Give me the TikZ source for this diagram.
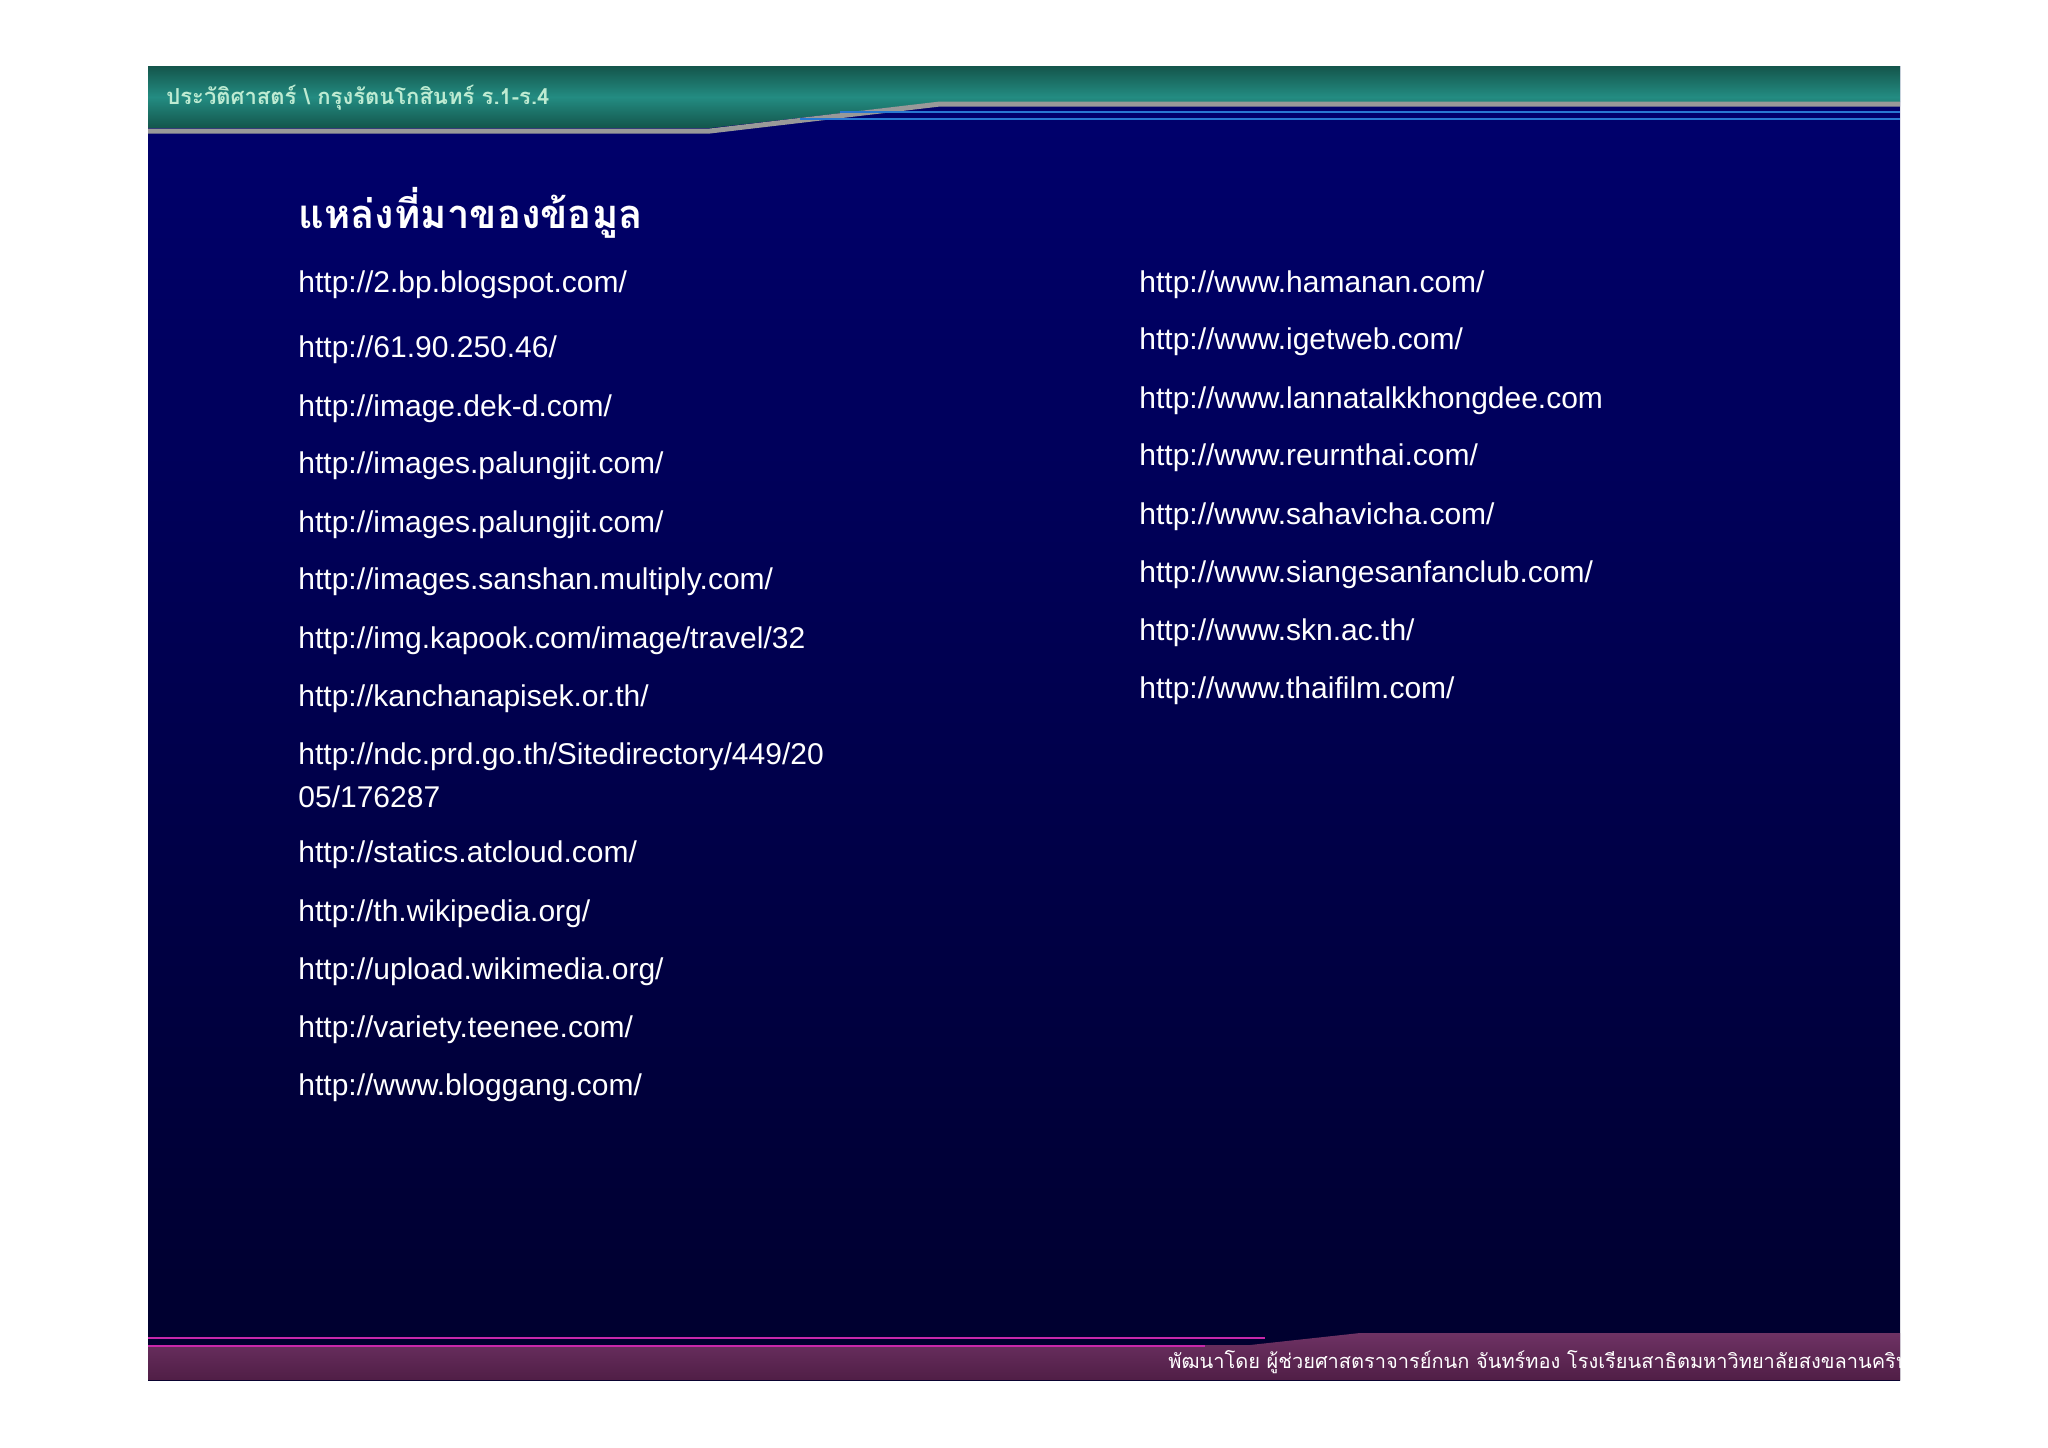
\documentclass[tikz,border=0pt]{standalone}
\usepackage{fontspec}
\setmainfont{Liberation Sans}
\newfontfamily\thaifont[Script=Thai]{Loma}
\definecolor{navyA}{RGB}{0,0,110}
\definecolor{navyB}{RGB}{0,0,45}
\definecolor{tealD}{RGB}{20,85,75}
\definecolor{tealM}{RGB}{35,140,130}
\definecolor{lblue}{RGB}{40,120,210}
\definecolor{hdrtext}{RGB}{190,235,210}
\definecolor{plumA}{RGB}{110,50,100}
\definecolor{plumB}{RGB}{80,30,70}
\definecolor{magline}{RGB}{200,40,170}
\begin{document}
\begin{tikzpicture}[x=0.5pt,y=-0.5pt,
  url/.style={anchor=west,text=white,font=\fontsize{15}{17}\selectfont,inner sep=0pt}]
\useasboundingbox (0,0) rectangle (2048,1447);
\fill[white] (0,0) rectangle (2048,1447);
\shade[top color=navyA, bottom color=navyB] (148,66) rectangle (1900,1380);
% header
\shade[top color=tealD, bottom color=tealD, middle color=tealM]
  (148,66) -- (1900,66) -- (1900,102) -- (940,102) -- (710,128) -- (148,128) -- cycle;
\draw[gray!80,line width=2.5pt] (148,131) -- (710,131) -- (940,104) -- (1900,104);
\draw[lblue,line width=1pt] (840,112) -- (1900,112);
\draw[lblue,line width=1pt] (800,119) -- (1900,119);
\node[anchor=west,text=hdrtext,font=\thaifont\bfseries\fontsize{11}{13}\selectfont,inner sep=0pt] (hdr) at (166,98) {ประวัติศาสตร์ \textbackslash\ กรุงรัตนโกสินทร์ ร.1-ร.4};
% footer
\shade[top color=plumA, bottom color=plumB]
  (148,1345) -- (1250,1345) -- (1360,1333) -- (1900,1333) -- (1900,1380) -- (148,1380) -- cycle;
\draw[magline,line width=1pt] (148,1338) -- (1265,1338);
\draw[magline,line width=1pt] (148,1346) -- (1205,1346);
\begin{scope}
\clip (148,1300) rectangle (1900,1380);
\node[anchor=west,text=white,font=\thaifont\fontsize{10}{12}\selectfont,inner sep=0pt] (ftr) at (1168,1362) {พัฒนาโดย ผู้ช่วยศาสตราจารย์กนก จันทร์ทอง โรงเรียนสาธิตมหาวิทยาลัยสงขลานครินทร์};
\end{scope}
% title
\node[anchor=west,text=white,font=\thaifont\bfseries\fontsize{20}{24}\selectfont,inner sep=0pt] (title) at (298,213) {แหล่งที่มาของข้อมูล};
% left column
\node[url] (l1) at (298,285) {http://2.bp.blogspot.com/};
\node[url] (l2) at (298,350) {http://61.90.250.46/};
\node[url] (l3) at (298,409) {http://image.dek-d.com/};
\node[url] (l4) at (298,466) {http://images.palungjit.com/};
\node[url] (l5) at (298,525) {http://images.palungjit.com/};
\node[url] (l6) at (298,582) {http://images.sanshan.multiply.com/};
\node[url] (l7) at (298,641) {http://img.kapook.com/image/travel/32};
\node[url] (l8) at (298,699) {http://kanchanapisek.or.th/};
\node[url] (l9) at (298,757) {http://ndc.prd.go.th/Sitedirectory/449/20};
\node[url] (l9b) at (298,797) {05/176287};
\node[url] (l10) at (298,855) {http://statics.atcloud.com/};
\node[url] (l11) at (298,914) {http://th.wikipedia.org/};
\node[url] (l12) at (298,972) {http://upload.wikimedia.org/};
\node[url] (l13) at (298,1030) {http://variety.teenee.com/};
\node[url] (l14) at (298,1088) {http://www.bloggang.com/};
% right column
\node[url] (r1) at (1139,285) {http://www.hamanan.com/};
\node[url] (r2) at (1139,342) {http://www.igetweb.com/};
\node[url] (r3) at (1139,401) {http://www.lannatalkkhongdee.com};
\node[url] (r4) at (1139,458) {http://www.reurnthai.com/};
\node[url] (r5) at (1139,517) {http://www.sahavicha.com/};
\node[url] (r6) at (1139,575) {http://www.siangesanfanclub.com/};
\node[url] (r7) at (1139,633) {http://www.skn.ac.th/};
\node[url] (r8) at (1139,691) {http://www.thaifilm.com/};
\end{tikzpicture}
\end{document}
